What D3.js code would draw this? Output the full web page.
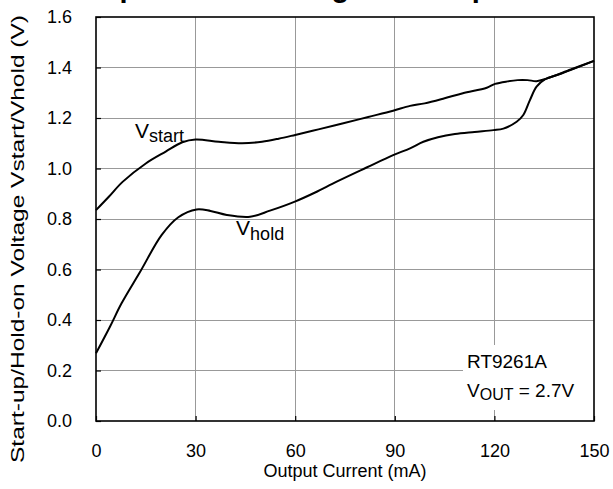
<!DOCTYPE html>
<html><head><meta charset="utf-8">
<script src="https://cdn.jsdelivr.net/npm/d3@7"></script>
<style>body{margin:0;background:#fff}svg{display:block;font-family:"Liberation Sans",Arial,sans-serif}</style>
</head><body>
<svg id="c" width="613" height="489"></svg>
<script>
const xTicks = [0, 30, 60, 90, 120, 150];
const yTicks = [0.0, 0.2, 0.4, 0.6, 0.8, 1.0, 1.2, 1.4, 1.6];
const vstartI = [0, 4, 8, 15, 21, 26, 30, 37, 44, 50, 55, 60, 67, 74.5, 82, 89.5, 94.6, 99, 105, 110.5, 117.7, 120.2, 124, 127, 130, 132.7, 135.7, 143, 150];
const vstartV = [0.835, 0.89, 0.947, 1.02, 1.067, 1.104, 1.115, 1.106, 1.100, 1.106, 1.118, 1.133, 1.155, 1.179, 1.204, 1.229, 1.248, 1.258, 1.278, 1.298, 1.320, 1.335, 1.345, 1.350, 1.350, 1.346, 1.356, 1.392, 1.426];
const vholdI = [0, 4.2, 7.7, 13.3, 19.8, 24.8, 30.3, 34.5, 39.4, 46.4, 52.4, 59.9, 66, 72.5, 81.5, 89.5, 94.6, 98.6, 103, 108.1, 114, 119.7, 122.7, 126.7, 128.7, 130.7, 132.7, 135.2, 140, 150];
const vholdV = [0.268, 0.373, 0.466, 0.591, 0.737, 0.807, 0.838, 0.832, 0.816, 0.809, 0.833, 0.869, 0.905, 0.948, 1.004, 1.053, 1.08, 1.106, 1.124, 1.137, 1.145, 1.152, 1.158, 1.185, 1.212, 1.271, 1.324, 1.353, 1.375, 1.426];
const titleText = "Start-up/Hold-on Voltage vs. Output Current";
const xLabel = "Output Current (mA)";
const yLabel = "Start-up/Hold-on Voltage Vstart/Vhold (V)";

const svg = d3.select("#c");
const L = 96, R = 594, T = 17, B = 421;
const x = d3.scaleLinear().domain([0, 150]).range([L, R]);
const y = d3.scaleLinear().domain([0, 1.6]).range([B, T]);

// grid
svg.append("g").selectAll("line").data(xTicks.slice(1, -1)).join("line")
  .attr("x1", d => x(d)).attr("x2", d => x(d)).attr("y1", T).attr("y2", B)
  .attr("stroke", "#999").attr("stroke-width", 1).attr("shape-rendering", "crispEdges");
svg.append("g").selectAll("line").data(yTicks.slice(1, -1)).join("line")
  .attr("y1", d => y(d)).attr("y2", d => y(d)).attr("x1", L).attr("x2", R)
  .attr("stroke", "#999").attr("stroke-width", 1).attr("shape-rendering", "crispEdges");

// axes with inward ticks
const ax = svg.append("g").attr("transform", `translate(0,${B})`)
  .call(d3.axisBottom(x).tickValues(xTicks).tickSize(-5).tickPadding(23).tickFormat(d3.format("d")));
const ay = svg.append("g").attr("transform", `translate(${L},0)`)
  .call(d3.axisLeft(y).tickValues(yTicks).tickSize(-5).tickPadding(24).tickFormat(d3.format(".1f")));
[ax, ay].forEach(g => {
  g.select(".domain").remove();
  g.selectAll(".tick line").attr("stroke", "#000").attr("stroke-width", 1.2);
  g.selectAll(".tick text").attr("font-size", 18).attr("fill", "#000").attr("font-family", "Liberation Sans, Arial, sans-serif");
});

// annotation box (white)
svg.append("rect").attr("x", 463).attr("y", 345).attr("width", R - 463).attr("height", 65).attr("fill", "#fff");

// frame
svg.append("rect").attr("x", L).attr("y", T).attr("width", R - L).attr("height", B - T)
  .attr("fill", "none").attr("stroke", "#000").attr("stroke-width", 1.6);

// curves
const line = d3.line().x(d => x(d[0])).y(d => y(d[1])).curve(d3.curveCatmullRom.alpha(0.5));
svg.append("path").datum(vstartI.map((v, i) => [v, vstartV[i]])).attr("d", line)
  .attr("fill", "none").attr("stroke", "#000").attr("stroke-width", 2);
svg.append("path").datum(vholdI.map((v, i) => [v, vholdV[i]])).attr("d", line)
  .attr("fill", "none").attr("stroke", "#000").attr("stroke-width", 2);

// curve labels
function subLabel(px, py, main, sub, fs, sfs, dy) {
  const t = svg.append("text").attr("x", px).attr("y", py).attr("font-size", fs).attr("fill", "#000");
  t.append("tspan").text(main);
  t.append("tspan").attr("font-size", sfs).attr("dy", dy).text(sub);
  return t;
}
subLabel(x(11.75), y(1.12), "V", "start", 21, 18, 3.5);
subLabel(x(42.2), y(0.738), "V", "hold", 21, 18, 5);

// annotation
svg.append("text").attr("x", 467).attr("y", 368).attr("font-size", 19).attr("fill", "#000").text("RT9261A");
const va = svg.append("text").attr("x", 467).attr("y", 397).attr("font-size", 19).attr("fill", "#000");
va.append("tspan").text("V");
va.append("tspan").attr("font-size", 16).attr("dy", 3).text("OUT");
va.append("tspan").attr("dy", -3).text(" = 2.7V");

// axis titles
svg.append("text").attr("x", 345).attr("y", 477).attr("text-anchor", "middle").attr("font-size", 18).attr("fill", "#000").text(xLabel);
svg.append("text").attr("transform", "translate(24,239) rotate(-90)").attr("text-anchor", "middle")
  .attr("font-size", 18.5).attr("fill", "#000").attr("textLength", 448).attr("lengthAdjust", "spacingAndGlyphs").text(yLabel);

// title (mostly above the visible area)
svg.append("text").attr("x", 26).attr("y", -3).attr("font-size", 29).attr("font-weight", "bold").attr("fill", "#000").text(titleText);
</script>
</body></html>
